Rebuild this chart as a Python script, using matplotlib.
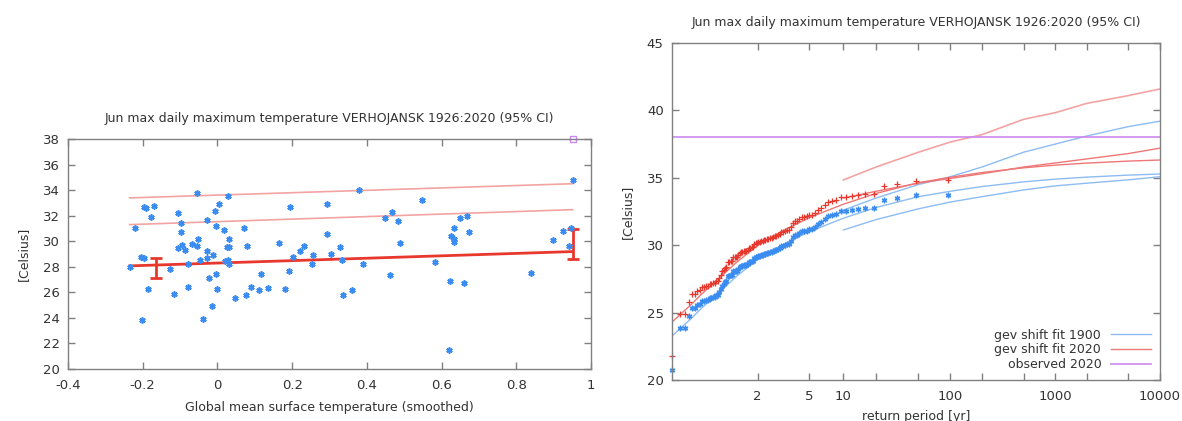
import numpy as np
import matplotlib
matplotlib.use("Agg")
import matplotlib.pyplot as plt

# === left panel: obs vs smoothed GMST ===
gmst = [-0.235, -0.221, -0.205, -0.197, -0.203, -0.197, -0.192, -0.187, -0.177, -0.170,
        -0.128, -0.115, -0.106, -0.105, -0.098, -0.097, -0.096, -0.087, -0.080, -0.080,
        -0.069, -0.056, -0.055, -0.052, -0.047, -0.039, -0.029, -0.028, -0.027, -0.022,
        -0.014, -0.013, -0.007, -0.005, -0.003, -0.001, 0.003, 0.017, 0.021, 0.025,
        0.028, 0.029, 0.030, 0.031, 0.032, 0.047, 0.072, 0.076, 0.078, 0.090,
        0.112, 0.116, 0.135, 0.166, 0.181, 0.192, 0.194, 0.203, 0.222, 0.232,
        0.252, 0.257, 0.292, 0.293, 0.305, 0.328, 0.333, 0.337, 0.359, 0.378,
        0.391, 0.449, 0.462, 0.466, 0.484, 0.488, 0.547, 0.583, 0.619, 0.622,
        0.626, 0.632, 0.632, 0.634, 0.649, 0.661, 0.667, 0.673, 0.839, 0.898,
        0.924, 0.940, 0.947, 0.951]
tmax = [28.0, 31.0, 28.8, 28.7, 23.85, 32.7, 32.6, 26.25, 31.9, 32.75,
        27.85, 25.9, 32.2, 29.45, 31.4, 30.7, 29.7, 29.3, 28.2, 26.4,
        29.8, 33.8, 29.6, 30.2, 28.55, 23.95, 29.2, 28.65, 31.7, 27.15,
        24.9, 28.9, 32.4, 27.4, 31.2, 26.25, 32.9, 30.9, 28.45, 29.55,
        33.55, 28.55, 28.25, 29.55, 30.2, 25.55, 31.0, 25.8, 29.65, 26.4,
        26.15, 27.4, 26.35, 29.9, 26.3, 27.7, 32.65, 28.8, 29.2, 29.65,
        28.2, 28.9, 30.55, 32.95, 29.0, 29.55, 28.55, 25.8, 26.15, 34.0,
        28.2, 31.8, 27.35, 32.3, 31.55, 29.9, 33.2, 28.4, 21.45, 26.9,
        30.4, 31.05, 30.2, 29.95, 31.85, 26.7, 32.0, 30.7, 27.5, 30.1,
        30.8, 29.6, 31.0, 34.8]
obs2020_x = 0.951
obs2020 = 38.0

fit_x = [-0.235, 0.951]
fit_mu = [28.07, 29.19]
fit_rp10 = [31.3, 32.47]
fit_rp100 = [33.39, 34.5]
eb_x = [-0.164, 0.951]
eb_lo = [27.16, 28.6]
eb_hi = [28.65, 30.99]
eb_mid = [28.14, 29.19]

# === right panel: return level plot ===
# sorted observations shifted to 1900 and 2020 climate
obs1900 = [20.72, 23.83, 23.88, 24.75, 25.33, 25.35, 25.57, 25.66, 25.85, 25.89,
           25.93, 25.97, 26.07, 26.09, 26.16, 26.17, 26.27, 26.32, 26.56, 26.76,
           27.01, 27.13, 27.25, 27.36, 27.68, 27.70, 27.81, 27.81, 28.06, 28.06,
           28.08, 28.12, 28.27, 28.36, 28.44, 28.45, 28.50, 28.52, 28.56, 28.57,
           28.72, 28.75, 28.83, 28.84, 29.07, 29.09, 29.11, 29.20, 29.22, 29.28,
           29.29, 29.36, 29.37, 29.39, 29.42, 29.46, 29.49, 29.59, 29.63, 29.66,
           29.71, 29.79, 29.92, 29.96, 30.01, 30.09, 30.12, 30.31, 30.63, 30.73,
           30.77, 30.94, 31.04, 31.05, 31.09, 31.22, 31.23, 31.33, 31.57, 31.71,
           31.91, 32.14, 32.25, 32.31, 32.52, 32.53, 32.62, 32.72, 32.74, 32.75,
           33.37, 33.49, 33.69, 33.76]
obs2020s = [21.76, 24.87, 24.92, 25.79, 26.37, 26.39, 26.61, 26.70, 26.89, 26.93,
            26.97, 27.01, 27.11, 27.13, 27.20, 27.21, 27.31, 27.36, 27.60, 27.80,
            28.05, 28.17, 28.29, 28.40, 28.72, 28.74, 28.85, 28.85, 29.10, 29.10,
            29.12, 29.16, 29.31, 29.40, 29.48, 29.49, 29.54, 29.56, 29.60, 29.61,
            29.76, 29.79, 29.87, 29.88, 30.11, 30.13, 30.15, 30.24, 30.26, 30.32,
            30.33, 30.40, 30.41, 30.43, 30.46, 30.50, 30.53, 30.63, 30.67, 30.70,
            30.75, 30.83, 30.96, 31.00, 31.05, 31.13, 31.16, 31.35, 31.67, 31.77,
            31.81, 31.98, 32.08, 32.09, 32.13, 32.26, 32.27, 32.37, 32.61, 32.75,
            32.95, 33.18, 33.29, 33.35, 33.56, 33.57, 33.66, 33.76, 33.78, 33.79,
            34.41, 34.53, 34.73, 34.80]

rp_fit = [95 / 94, 1.05, 1.1, 1.2, 1.5, 2, 3, 5, 10, 20, 50, 100, 200, 500, 1000, 2000, 5000, 10000]
gev1900 = [23.26, 24.5, 25.3, 26.2, 27.7, 28.95, 30.0, 31.0, 32.0, 32.8, 33.6, 34.0, 34.35, 34.7, 34.9, 35.05, 35.2, 35.28]
gev2020 = [24.30, 25.54, 26.34, 27.24, 28.74, 29.99, 31.04, 32.04, 33.04, 33.84, 34.64, 35.04, 35.39, 35.74, 35.94, 36.09, 36.24, 36.32]

rp_ci = [10, 20, 50, 100, 200, 500, 1000, 2000, 5000, 10000]
ci1900_lo = [31.13, 31.9, 32.7, 33.2, 33.6, 34.1, 34.4, 34.6, 34.85, 35.08]
ci1900_hi = [32.6, 33.5, 34.5, 35.08, 35.8, 36.9, 37.5, 38.1, 38.8, 39.2]
ci2020_lo = [33.5, 34.0, 34.6, 34.95, 35.3, 35.8, 36.1, 36.4, 36.8, 37.2]
ci2020_hi = [34.84, 35.8, 36.9, 37.65, 38.2, 39.34, 39.83, 40.52, 41.1, 41.59]

rp_ticks = [2, 5, 10, 100, 1000, 10000]
rp_minor = [20, 50, 200, 500, 2000, 5000]

BLUE = "#3a8cf0"
LBLUE = "#8dbcf4"
RED = "#e8382e"
PINK = "#f4a3a3"
LRED = "#ee7777"
PURPLE = "#cc88ee"
GRAY = "#808080"
TXT = "#333333"


def gumbel(T):
    T = np.clip(np.asarray(T, dtype=float), 1.0000001, None)
    return -np.log(-np.log(1.0 - 1.0 / T))


def gumbel_inv(g):
    return 1.0 / (1.0 - np.exp(-np.exp(-np.asarray(g, dtype=float))))


def style_axes(ax):
    for s in ax.spines.values():
        s.set_color(GRAY)
        s.set_linewidth(1.0)
    ax.tick_params(which="both", direction="in", top=True, right=True,
                   color=GRAY, labelsize=9.5, labelcolor=TXT, width=1.0)
    ax.tick_params(which="both", length=5)
    ax.tick_params(axis="x", which="major", pad=7)
    ax.tick_params(axis="y", which="major", pad=6)


plt.rcParams["font.family"] = ["DejaVu Sans"]
fig = plt.figure(figsize=(11.82, 4.21), dpi=100)

# --- left ---
ax1 = fig.add_axes([68 / 1182, 1 - 369 / 421, (591 - 68) / 1182, (369 - 139) / 421])
ax1.plot(fit_x, fit_rp100, color=PINK, lw=1.2)
ax1.plot(fit_x, fit_rp10, color=PINK, lw=1.2)
ax1.plot(fit_x, fit_mu, color=RED, lw=2.0)
ax1.errorbar(eb_x, eb_mid,
             yerr=[np.array(eb_mid) - np.array(eb_lo), np.array(eb_hi) - np.array(eb_mid)],
             fmt="none", ecolor=RED, elinewidth=2.0, capsize=4, capthick=2.0)
ax1.plot(gmst, tmax, ls="none", marker=(6, 2, 0), ms=4.5, mew=1.2, color=BLUE)
ax1.plot([obs2020_x], [obs2020], ls="none", marker="s", ms=4, mfc="none",
         mec=PURPLE, mew=1.0, clip_on=False)
ax1.set_xlim(-0.4, 1.0)
ax1.set_ylim(20, 38)
ax1.set_xticks(np.arange(-0.4, 1.01, 0.2))
ax1.set_xticklabels(["-0.4", "-0.2", "0", "0.2", "0.4", "0.6", "0.8", "1"])
ax1.set_yticks(np.arange(20, 39, 2))
style_axes(ax1)
ax1.set_title("Jun max daily maximum temperature VERHOJANSK 1926:2020 (95% CI)",
              fontsize=9, color=TXT, pad=12)
ax1.set_xlabel("Global mean surface temperature (smoothed)", fontsize=9, color=TXT, labelpad=7)
ax1.set_ylabel("[Celsius]", fontsize=9, color=TXT, labelpad=9)

# --- right ---
ax2 = fig.add_axes([672 / 1182, 1 - 380 / 421, (1160 - 672) / 1182, (380 - 43) / 421])
ax2.set_xscale("function", functions=(gumbel, gumbel_inv))
n = len(obs1900)
rp_obs = (n + 1) / np.arange(n, 0, -1)
ax2.plot(rp_fit, gev1900, color=LBLUE, lw=1.0, label="gev shift fit 1900")
ax2.plot(rp_ci, ci1900_lo, color=LBLUE, lw=1.0)
ax2.plot(rp_ci, ci1900_hi, color=LBLUE, lw=1.0)
ax2.plot(rp_fit, gev2020, color=LRED, lw=1.0, label="gev shift fit 2020")
ax2.plot(rp_ci, ci2020_lo, color=LRED, lw=1.0)
ax2.plot(rp_ci, ci2020_hi, color=PINK, lw=1.2)
ax2.axhline(obs2020, color=PURPLE, lw=1.2, label="observed 2020")
ax2.plot(rp_obs, obs1900, ls="none", marker=(6, 2, 0), ms=4, mew=1.0, color=BLUE, clip_on=False)
ax2.plot(rp_obs, obs2020s, ls="none", marker="+", ms=5, mew=0.9, color=RED, clip_on=False)
ax2.set_xlim(95 / 94, 10000)
ax2.set_ylim(20, 45)
ax2.set_xticks(rp_ticks)
ax2.set_xticklabels([str(t) for t in rp_ticks])
ax2.set_xticks(rp_minor, minor=True)
ax2.set_xticklabels([], minor=True)
ax2.set_yticks(np.arange(20, 46, 5))
style_axes(ax2)
ax2.set_title("Jun max daily maximum temperature VERHOJANSK 1926:2020 (95% CI)",
              fontsize=9, color=TXT, pad=12)
ax2.set_xlabel("return period [yr]", fontsize=9, color=TXT, labelpad=5)
ax2.set_ylabel("[Celsius]", fontsize=9, color=TXT, labelpad=9)
ax2.legend(loc="lower right", frameon=False, markerfirst=False, fontsize=9,
           handlelength=3.2, labelspacing=0.15, borderaxespad=0.3, labelcolor=TXT)

fig.savefig("out.png", dpi=100)
